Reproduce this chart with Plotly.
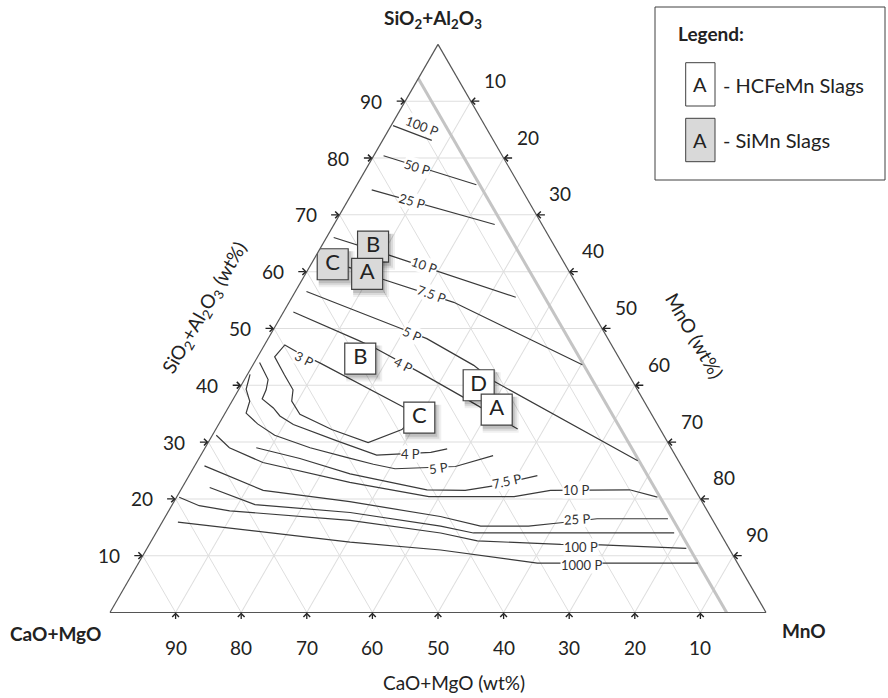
import math
import plotly.graph_objects as go

W, H = 888, 698
FONT = "Lato, Carlito, Calibri, sans-serif"

# ---------------- data (SiO2+Al2O3 wt%, MnO wt%); CaO+MgO = 100 - both ----------------
TICKS = [10, 20, 30, 40, 50, 60, 70, 80, 90]

P100_UPPER = [(85.7, 0.3), (83.1, 7.5)]
P50_UPPER = [(80.4, 1.5), (75.3, 18.2)]
P25_UPPER = [(74.4, 2.7), (68.3, 24.5)]
P10_UPPER = [(66.0, 1.1), (63.0, 10.8), (55.5, 34.1)]
P7_5_UPPER = [(62.0, 1.3), (60.7, 6.2), (58.7, 12.1), (54.6, 25.1), (43.6, 50.2)]
P5_UPPER = [(56.5, 1.7), (49.9, 19.6), (48.2, 24.2), (43.5, 33.7), (40.8, 38.0), (26.7, 67.1)]
P4_UPPER = [(52.9, 1.5), (47.9, 13.9), (46.5, 17.2), (42.4, 25.8), (38.0, 34.7), (32.3, 46.0)]
P3 = [(36.0, 27.0), (43.9, 10.1), (45.9, 5.5), (47.1, 3.1), (45.0, 2.6), (41.8, 5.7),
      (39.2, 8.3), (37.2, 9.1), (34.9, 11.5), (32.2, 17.7), (29.9, 24.4), (32.2, 28.4), (33.1, 28.7)]
P4_LOWER = [(44.0, 0.8), (41.0, 3.6), (39.2, 4.2), (37.6, 4.4), (36.0, 6.9), (34.6, 8.6),
            (33.1, 11.4), (30.2, 19.5), (27.7, 26.8), (28.2, 34.8), (28.8, 37.0)]
P5_LOWER = [(41.9, 0.4), (39.3, 1.1), (37.2, 2.7), (35.1, 3.2), (33.2, 5.9), (31.2, 9.5),
            (29.0, 16.0), (27.3, 22.4), (26.1, 27.1), (25.3, 30.8), (25.7, 39.8), (27.6, 44.6)]
P7_5_LOWER = [(29.0, 7.8), (27.1, 15.4), (24.4, 24.4), (21.6, 37.5), (21.5, 43.4), (22.3, 47.3), (24.1, 53.1)]
P10_LOWER = [(31.2, 0.6), (29.0, 3.7), (26.4, 10.1), (22.9, 25.1), (20.4, 38.4), (20.4, 51.4),
             (21.5, 56.4), (21.6, 68.4), (20.3, 73.3)]
P25_LOWER = [(25.8, 1.5), (21.5, 12.6), (19.5, 26.8), (16.9, 41.9), (15.2, 48.9), (15.2, 56.2),
             (15.8, 60.8), (16.5, 66.0), (16.5, 76.8)]
P50_LOWER = [(22.0, 4.2), (19.0, 12.6), (17.6, 27.8), (15.2, 42.8), (14.0, 48.4), (14.0, 79.0)]
P100_LOWER = [(20.3, 0.4), (18.8, 4.2), (17.9, 9.3), (16.2, 28.5), (14.0, 43.4), (12.6, 49.7),
              (12.0, 62.7), (11.9, 68.9), (11.3, 82.2)]
P1000_LOWER = [(15.9, 2.4), (12.4, 30.4), (11.0, 44.9), (8.7, 60.8), (8.7, 85.3)]

CONTOUR_LINES = [P100_UPPER, P50_UPPER, P25_UPPER, P10_UPPER, P7_5_UPPER, P5_UPPER, P4_UPPER, P3,
                 P4_LOWER, P5_LOWER, P7_5_LOWER, P10_LOWER, P25_LOWER, P50_LOWER, P100_LOWER, P1000_LOWER]

LABEL_TEXT = ["100 P", "50 P", "25 P", "10 P", "7.5 P", "5 P", "4 P", "3 P",
              "4 P", "5 P", "7.5 P", "10 P", "25 P", "100 P", "1000 P"]
LABEL_SIO2 = [85.6, 78.4, 72.5, 61.1, 56.1, 49.1, 43.6, 44.7, 27.9, 25.5, 23.2, 21.6, 16.5, 11.6, 8.4]
LABEL_MNO = [4.8, 7.6, 9.8, 17.3, 21.0, 21.5, 23.0, 7.3, 31.8, 37.3, 48.9, 60.2, 63.0, 66.0, 67.6]
LABEL_ANGLE = [21, 17, 16, 19, 20, 24, 28, 27, 0, -8, -12, 0, -3, 0, 0]

GRAY_LINE_SIO2 = [94.0, 0.0]
GRAY_LINE_MNO = [0.0, 94.0]

SIMN_LABELS = ["B", "C", "A"]
SIMN_SIO2 = [64.4, 61.3, 59.6]
SIMN_MNO = [7.9, 3.3, 9.4]

HCFEMN_LABELS = ["B", "C", "D", "A"]
HCFEMN_SIO2 = [44.7, 34.3, 40.0, 35.7]
HCFEMN_MNO = [15.8, 30.0, 36.2, 41.1]

# ---------------- geometry / style (page pixels) ----------------
TRI_LEFT, TRI_SIDE, TRI_BOTTOM = 110.0, 656.0, 612.5
TRI_H = TRI_SIDE * math.sqrt(3) / 2


def px(x):
    return x / W


def py(y):
    return 1 - y / H


X0, X1 = px(TRI_LEFT), px(TRI_LEFT + TRI_SIDE)
Y0, Y1 = py(TRI_BOTTOM), py(TRI_BOTTOM - TRI_H)

EDGE = "#555555"
GRID = "#dedede"
LINE = "#3a3a3a"
GRAYL = "#c4c4c4"
SIMN_FILL = "#d9d9d9"
TXT = "#222222"


def paper(a, c):
    return X0 + (c + a / 2) / 100 * (X1 - X0), Y0 + a / 100 * (Y1 - Y0)


def shift(a, c, dx, dy):
    da = -dy / TRI_H * 100
    dc = dx / TRI_SIDE * 100 - da / 2
    return a + da, c + dc


fig = go.Figure()

fig.add_trace(go.Scatterternary(
    a=GRAY_LINE_SIO2, c=GRAY_LINE_MNO,
    b=[100 - a - c for a, c in zip(GRAY_LINE_SIO2, GRAY_LINE_MNO)],
    mode="lines", line=dict(color=GRAYL, width=3), hoverinfo="skip"))

for pts in CONTOUR_LINES:
    fig.add_trace(go.Scatterternary(
        a=[p[0] for p in pts], c=[p[1] for p in pts], b=[100 - p[0] - p[1] for p in pts],
        mode="lines", line=dict(color=LINE, width=1.2), hoverinfo="skip"))


def add_box(a, c, letter, fill):
    for (dx, dy, size, alpha) in [(4, 5, 36, 0.06), (3, 4, 34, 0.09), (2, 3, 32, 0.12)]:
        sa, sc = shift(a, c, dx, dy)
        fig.add_trace(go.Scatterternary(
            a=[sa], c=[sc], b=[100 - sa - sc], mode="markers",
            marker=dict(symbol="square", size=size, color=f"rgba(0,0,0,{alpha})", line=dict(width=0)),
            hoverinfo="skip"))
    fig.add_trace(go.Scatterternary(
        a=[a], c=[c], b=[100 - a - c], mode="markers+text", text=[letter],
        textposition="middle center", textfont=dict(family=FONT, size=22, color=TXT),
        marker=dict(symbol="square", size=31, color=fill, line=dict(color="#404040", width=1.2)),
        hoverinfo="skip"))


for lab, a, c in zip(SIMN_LABELS, SIMN_SIO2, SIMN_MNO):
    add_box(a, c, lab, SIMN_FILL)
for lab, a, c in zip(HCFEMN_LABELS, HCFEMN_SIO2, HCFEMN_MNO):
    add_box(a, c, lab, "white")

annotations = []

# contour labels
for t, a, c, ang in zip(LABEL_TEXT, LABEL_SIO2, LABEL_MNO, LABEL_ANGLE):
    x, y = paper(a, c)
    annotations.append(dict(x=x, y=y, xref="paper", yref="paper", text=t, showarrow=False,
                            textangle=ang, font=dict(family=FONT, size=13, color="#333333"),
                            bgcolor="white", borderpad=0, xanchor="center", yanchor="middle"))


def tick_arrow(x, y, ax, ay):
    annotations.append(dict(x=x, y=y, xref="paper", yref="paper", text="", showarrow=True,
                            ax=ax, ay=ay, arrowhead=4, arrowsize=1.0, arrowwidth=1.3,
                            arrowcolor="#222222", standoff=0))


def tick_label(x, y, v, dx, dy):
    annotations.append(dict(x=x, y=y, xref="paper", yref="paper", text=str(v), showarrow=False,
                            xshift=dx, yshift=dy, xanchor="center", yanchor="middle",
                            font=dict(family=FONT, size=19, color=TXT)))


for v in TICKS:
    x, y = paper(v, 0)            # left edge: SiO2+Al2O3
    tick_arrow(x, y, -10, 0)
    tick_label(x, y, v, -34, 0)
    x, y = paper(100 - v, v)      # right edge: MnO
    tick_arrow(x, y, 10, 0)
    tick_label(x, y, v, 24, 21)
    x, y = paper(0, 100 - v)      # bottom edge: CaO+MgO
    tick_arrow(x, y, 0, 8)
    tick_label(x, y, v, 0, -35)


def ann(x, y, text, size=18, angle=0, xanchor="center"):
    annotations.append(dict(x=px(x), y=py(y), xref="paper", yref="paper", text=text,
                            showarrow=False, textangle=angle, xanchor=xanchor, yanchor="middle",
                            font=dict(family=FONT, size=size, color=TXT)))


ann(432.5, 19, "<b>SiO<sub>2</sub>+Al<sub>2</sub>O<sub>3</sub></b>", 19)
ann(56, 633, "<b>CaO+MgO</b>", 19)
ann(804, 630, "<b>MnO</b>", 19)
ann(454, 682, "CaO+MgO (wt%)", 19)
ann(205, 308, "SiO<sub>2</sub>+Al<sub>2</sub>O<sub>3</sub> (wt%)", 19, -60)
ann(695, 335, "MnO (wt%)", 19, 60)

# legend
ann(676, 33, "<b>Legend:</b>", 19, xanchor="left")
ann(700.3, 84.3, "A", 20)
ann(700.3, 140, "A", 20)
ann(721, 85, "- HCFeMn Slags", 20, xanchor="left")
ann(721, 140, "- SiMn Slags", 20, xanchor="left")

shapes = [
    dict(type="rect", xref="paper", yref="paper", x0=px(655), x1=px(885), y0=py(180), y1=py(7),
         line=dict(color="#404040", width=1), fillcolor="white", layer="below"),
    dict(type="rect", xref="paper", yref="paper", x0=px(685.7), x1=px(715), y0=py(106), y1=py(62.7),
         line=dict(color="#404040", width=1), fillcolor="white"),
    dict(type="rect", xref="paper", yref="paper", x0=px(685.7), x1=px(715), y0=py(161.7), y1=py(118.3),
         line=dict(color="#404040", width=1), fillcolor=SIMN_FILL),
]

axis_style = dict(title=dict(text=""), showticklabels=False, ticks="", showgrid=True,
                  gridcolor=GRID, gridwidth=1, linecolor=EDGE, linewidth=1.2, showline=True,
                  tickmode="linear", tick0=0, dtick=10, min=0)

fig.update_layout(
    width=W, height=H, margin=dict(l=0, r=0, t=0, b=0),
    paper_bgcolor="white", showlegend=False,
    font=dict(family=FONT, color=TXT),
    ternary=dict(sum=100, bgcolor="white",
                 domain=dict(x=[X0, X1], y=[Y0, Y1]),
                 aaxis=axis_style, baxis=axis_style, caxis=axis_style),
    annotations=annotations, shapes=shapes,
)

fig.write_html("out.html", config={"displayModeBar": False},
               post_script="document.body.style.margin='0px';document.body.style.overflow='hidden';")
